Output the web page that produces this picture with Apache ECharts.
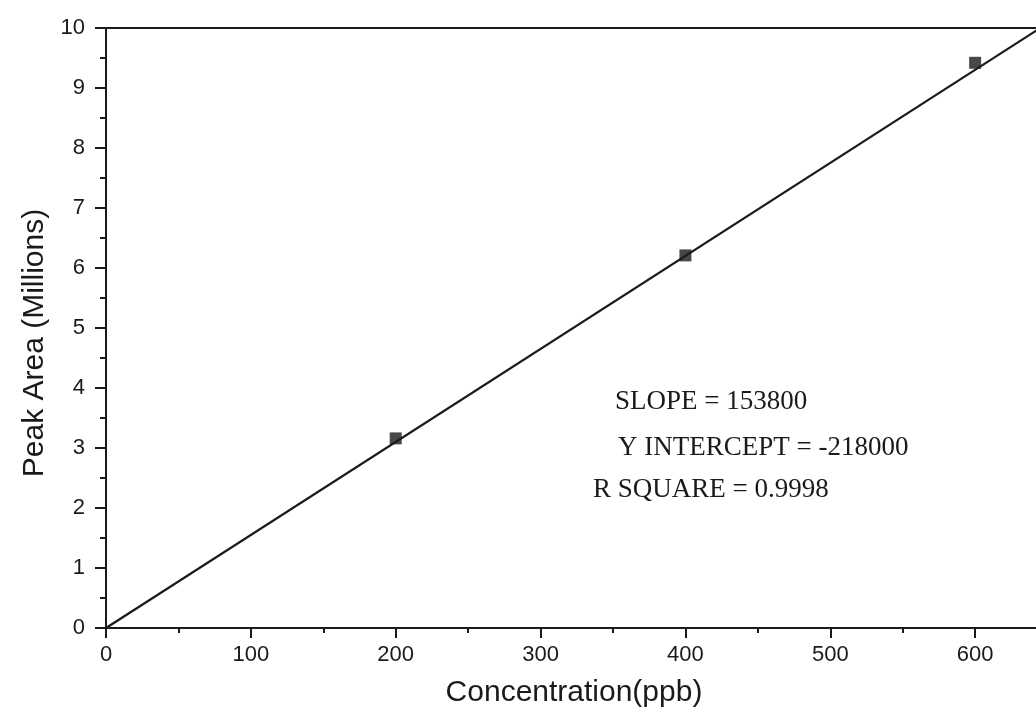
<!DOCTYPE html>
<html>
<head>
<meta charset="utf-8">
<script src="https://cdn.jsdelivr.net/npm/echarts@6/dist/echarts.min.js"></script>
<style>
html,body{margin:0;padding:0;background:#fff;}
#chart{width:1036px;height:713px;}
</style>
</head>
<body>
<div id="chart"></div>
<script>
// Measured standards: concentration (ppb) vs peak area (millions)
const concentration = [200, 400, 600];
const peakArea = [3.16, 6.21, 9.42];
// Fitted calibration line as drawn (endpoints)
const fitX = [0, 645];
const fitY = [0, 10];
const annotations = ["SLOPE = 153800", "Y INTERCEPT = -218000", "R SQUARE = 0.9998"];
const xTitle = "Concentration(ppb)";
const yTitle = "Peak Area (Millions)";

const ink = '#1a1a1a';
const chart = echarts.init(document.getElementById('chart'));
chart.setOption({
  backgroundColor: '#ffffff',
  animation: false,
  grid: {left: 106, right: -84, top: 28, bottom: 85, outerBoundsMode: 'none', containLabel: false,
         show: true, borderColor: ink, borderWidth: 2, backgroundColor: 'transparent'},
  xAxis: {
    type: 'value', min: 0, max: 700, interval: 100,
    name: xTitle, nameLocation: 'middle', nameGap: 50,
    nameTextStyle: {fontFamily: 'Liberation Sans', fontSize: 30, color: ink, padding: [0, 78, 0, 0]},
    axisLine: {show: true, onZero: false, lineStyle: {color: ink, width: 2}},
    axisTick: {show: true, inside: false, length: 10, lineStyle: {color: ink, width: 2}},
    minorTick: {show: true, splitNumber: 2, length: 5, lineStyle: {color: ink, width: 2}},
    splitLine: {show: false},
    axisLabel: {fontFamily: 'Liberation Sans', fontSize: 22, color: ink, margin: 16, showMaxLabel: false}
  },
  yAxis: {
    type: 'value', min: 0, max: 10, interval: 1,
    name: yTitle, nameLocation: 'middle', nameGap: 54,
    nameTextStyle: {fontFamily: 'Liberation Sans', fontSize: 30, color: ink, padding: [0, 30, 0, 0]},
    axisLine: {show: true, onZero: false, lineStyle: {color: ink, width: 2}},
    axisTick: {show: true, inside: false, length: 11, lineStyle: {color: ink, width: 2}},
    minorTick: {show: true, splitNumber: 2, length: 6, lineStyle: {color: ink, width: 2}},
    splitLine: {show: false},
    axisLabel: {fontFamily: 'Liberation Sans', fontSize: 22, color: ink, margin: 21}
  },
  series: [
    {
      type: 'line',
      data: fitX.map((x, i) => [x, fitY[i]]),
      showSymbol: false,
      lineStyle: {color: ink, width: 2.2},
      z: 2
    },
    {
      type: 'scatter',
      data: concentration.map((x, i) => [x, peakArea[i]]),
      symbol: 'rect', symbolSize: 12,
      itemStyle: {color: ink},
      z: 3
    }
  ],
  graphic: [
    {type: 'text', left: 615, top: 388, style: {text: annotations[0], font: '27px "Liberation Serif"', fill: ink}},
    {type: 'text', left: 618, top: 434, style: {text: annotations[1], font: '27px "Liberation Serif"', fill: ink}},
    {type: 'text', left: 593, top: 476, style: {text: annotations[2], font: '27px "Liberation Serif"', fill: ink}}
  ]
});
</script>
</body>
</html>
